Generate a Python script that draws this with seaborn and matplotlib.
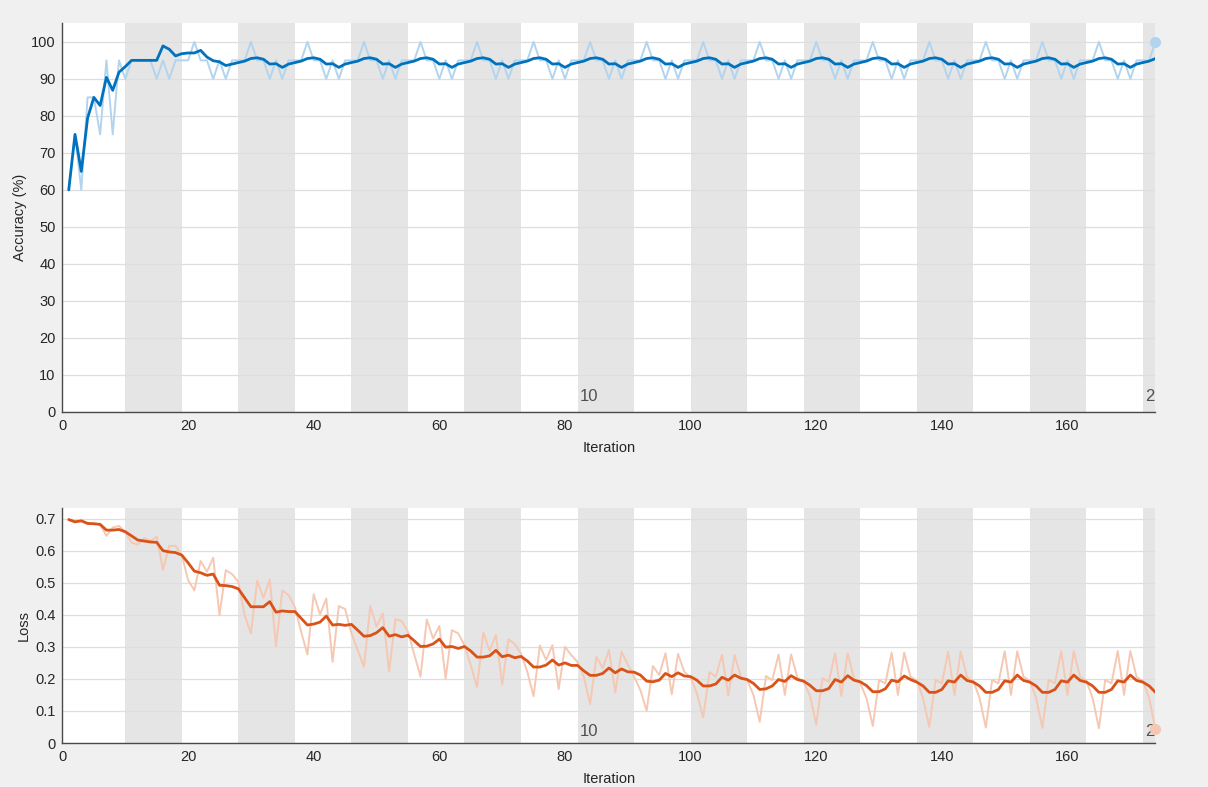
import numpy as np
import pandas as pd
import matplotlib
matplotlib.use("Agg")
import matplotlib.pyplot as plt
import seaborn as sns

# ---- training record: one row of 9 values per epoch (9 iterations / epoch) ----
acc_raw = [
    60, 75, 60, 85, 85, 75, 95, 75, 95,
    90, 95, 95, 95, 95, 90, 95, 90, 95,
    95, 95, 100, 95, 95, 90, 95, 90, 95,
    95, 95, 100, 95, 95, 90, 95, 90, 95,
    95, 95, 100, 95, 95, 90, 95, 90, 95,
    95, 95, 100, 95, 95, 90, 95, 90, 95,
    95, 95, 100, 95, 95, 90, 95, 90, 95,
    95, 95, 100, 95, 95, 90, 95, 90, 95,
    95, 95, 100, 95, 95, 90, 95, 90, 95,
    95, 95, 100, 95, 95, 90, 95, 90, 95,
    95, 95, 100, 95, 95, 90, 95, 90, 95,
    95, 95, 100, 95, 95, 90, 95, 90, 95,
    95, 95, 100, 95, 95, 90, 95, 90, 95,
    95, 95, 100, 95, 95, 90, 95, 90, 95,
    95, 95, 100, 95, 95, 90, 95, 90, 95,
    95, 95, 100, 95, 95, 90, 95, 90, 95,
    95, 95, 100, 95, 95, 90, 95, 90, 95,
    95, 95, 100, 95, 95, 90, 95, 90, 95,
    95, 95, 100, 95, 95, 90, 95, 90, 95,
    95, 95, 100,
]

acc_smooth = [
    60.0, 75.0, 65.0, 79.4, 85.0, 82.8, 90.4, 86.9, 91.8,
    93.3, 95.0, 95.0, 95.0, 95.0, 95.0, 98.9, 98.0, 96.2,
    96.8, 97.0, 97.0, 97.7, 95.9, 94.9, 94.6, 93.6, 94.0,
    94.4, 94.8, 95.5, 95.7, 95.3, 94.0, 94.1, 93.1, 94.0,
    94.4, 94.8, 95.5, 95.7, 95.3, 94.0, 94.1, 93.1, 94.0,
    94.4, 94.8, 95.5, 95.7, 95.3, 94.0, 94.1, 93.1, 94.0,
    94.4, 94.8, 95.5, 95.7, 95.3, 94.0, 94.1, 93.1, 94.0,
    94.4, 94.8, 95.5, 95.7, 95.3, 94.0, 94.1, 93.1, 94.0,
    94.4, 94.8, 95.5, 95.7, 95.3, 94.0, 94.1, 93.1, 94.0,
    94.4, 94.8, 95.5, 95.7, 95.3, 94.0, 94.1, 93.1, 94.0,
    94.4, 94.8, 95.5, 95.7, 95.3, 94.0, 94.1, 93.1, 94.0,
    94.4, 94.8, 95.5, 95.7, 95.3, 94.0, 94.1, 93.1, 94.0,
    94.4, 94.8, 95.5, 95.7, 95.3, 94.0, 94.1, 93.1, 94.0,
    94.4, 94.8, 95.5, 95.7, 95.3, 94.0, 94.1, 93.1, 94.0,
    94.4, 94.8, 95.5, 95.7, 95.3, 94.0, 94.1, 93.1, 94.0,
    94.4, 94.8, 95.5, 95.7, 95.3, 94.0, 94.1, 93.1, 94.0,
    94.4, 94.8, 95.5, 95.7, 95.3, 94.0, 94.1, 93.1, 94.0,
    94.4, 94.8, 95.5, 95.7, 95.3, 94.0, 94.1, 93.1, 94.0,
    94.4, 94.8, 95.5, 95.7, 95.3, 94.0, 94.1, 93.1, 94.0,
    94.4, 94.8, 95.5,
]

loss_raw = [
    0.697, 0.688, 0.694, 0.683, 0.683, 0.681, 0.646, 0.672, 0.677,
    0.659, 0.625, 0.619, 0.639, 0.630, 0.644, 0.540, 0.615, 0.615,
    0.586, 0.508, 0.476, 0.568, 0.534, 0.578, 0.399, 0.539, 0.527,
    0.503, 0.399, 0.342, 0.506, 0.453, 0.510, 0.302, 0.476, 0.461,
    0.424, 0.347, 0.276, 0.464, 0.401, 0.451, 0.253, 0.427, 0.418,
    0.342, 0.290, 0.238, 0.427, 0.363, 0.404, 0.224, 0.386, 0.381,
    0.347, 0.277, 0.207, 0.385, 0.326, 0.365, 0.201, 0.352, 0.342,
    0.305, 0.243, 0.175, 0.345, 0.288, 0.337, 0.183, 0.323, 0.309,
    0.279, 0.222, 0.146, 0.304, 0.259, 0.305, 0.168, 0.300, 0.274,
    0.253, 0.207, 0.121, 0.269, 0.233, 0.290, 0.158, 0.285, 0.245,
    0.207, 0.165, 0.101, 0.240, 0.212, 0.280, 0.152, 0.278, 0.222,
    0.205, 0.155, 0.080, 0.221, 0.207, 0.275, 0.148, 0.274, 0.207,
    0.196, 0.150, 0.066, 0.209, 0.196, 0.276, 0.150, 0.276, 0.204,
    0.191, 0.147, 0.058, 0.202, 0.191, 0.280, 0.147, 0.280, 0.202,
    0.186, 0.140, 0.053, 0.196, 0.186, 0.282, 0.150, 0.282, 0.207,
    0.195, 0.140, 0.050, 0.197, 0.186, 0.285, 0.150, 0.285, 0.206,
    0.194, 0.140, 0.048, 0.197, 0.186, 0.286, 0.150, 0.286, 0.206,
    0.194, 0.140, 0.047, 0.197, 0.186, 0.286, 0.150, 0.286, 0.206,
    0.194, 0.140, 0.046, 0.197, 0.186, 0.287, 0.150, 0.287, 0.206,
    0.193, 0.140, 0.044,
]

loss_smooth = [
    0.697, 0.690, 0.693, 0.685, 0.684, 0.682, 0.664, 0.664, 0.666,
    0.659, 0.646, 0.633, 0.630, 0.627, 0.626, 0.600, 0.596, 0.594,
    0.586, 0.562, 0.536, 0.531, 0.523, 0.527, 0.492, 0.491, 0.488,
    0.481, 0.453, 0.425, 0.425, 0.425, 0.441, 0.408, 0.412, 0.410,
    0.410, 0.389, 0.368, 0.371, 0.377, 0.396, 0.368, 0.370, 0.367,
    0.370, 0.352, 0.333, 0.335, 0.344, 0.360, 0.333, 0.338, 0.331,
    0.336, 0.319, 0.301, 0.302, 0.309, 0.324, 0.299, 0.301, 0.295,
    0.301, 0.287, 0.268, 0.268, 0.272, 0.289, 0.269, 0.274, 0.266,
    0.270, 0.256, 0.237, 0.237, 0.243, 0.259, 0.243, 0.250, 0.242,
    0.242, 0.225, 0.211, 0.211, 0.217, 0.234, 0.219, 0.231, 0.222,
    0.221, 0.212, 0.193, 0.191, 0.196, 0.217, 0.207, 0.219, 0.209,
    0.207, 0.196, 0.178, 0.178, 0.184, 0.205, 0.196, 0.212, 0.202,
    0.198, 0.186, 0.167, 0.169, 0.178, 0.198, 0.192, 0.210, 0.198,
    0.193, 0.180, 0.163, 0.163, 0.170, 0.198, 0.190, 0.210, 0.196,
    0.191, 0.179, 0.160, 0.160, 0.169, 0.196, 0.191, 0.209, 0.198,
    0.190, 0.178, 0.158, 0.158, 0.167, 0.194, 0.190, 0.212, 0.195,
    0.190, 0.178, 0.158, 0.158, 0.167, 0.194, 0.190, 0.212, 0.195,
    0.190, 0.178, 0.158, 0.158, 0.167, 0.194, 0.190, 0.212, 0.195,
    0.190, 0.178, 0.158, 0.158, 0.167, 0.194, 0.190, 0.212, 0.195,
    0.190, 0.178, 0.158,
]

iters_per_epoch = 9
n_epochs = 20
epoch_marks = [10, 20]
x_ticks = [0, 20, 40, 60, 80, 100, 120, 140, 160]
acc_ticks = [0, 10, 20, 30, 40, 50, 60, 70, 80, 90, 100]
loss_ticks = [0, 0.1, 0.2, 0.3, 0.4, 0.5, 0.6, 0.7]

iteration = np.arange(1, len(acc_raw) + 1)
df = pd.DataFrame({
    "Iteration": iteration,
    "acc_raw": acc_raw,
    "acc_smooth": acc_smooth,
    "loss_raw": loss_raw,
    "loss_smooth": loss_smooth,
})

# ---- styling ----
sns.set_theme(style="white")
plt.rcParams["font.family"] = ["Liberation Sans", "DejaVu Sans"]
plt.rcParams["axes.facecolor"] = "white"

FIG_BG = "#f0f0f0"
BAND = "#e5e5e5"
GRID = "#dedede"
TXT = "#262626"
BLUE = "#0072bd"
BLUE_LIGHT = "#b3d4ee"
ORANGE = "#d95319"
ORANGE_LIGHT = "#f5c8b3"

fig = plt.figure(figsize=(12.08, 7.87), dpi=100, facecolor=FIG_BG)
ax_acc = fig.add_axes([0.0517, 0.4765, 0.9048, 0.4943])
ax_loss = fig.add_axes([0.0517, 0.0559, 0.9048, 0.2986])

x_max = len(acc_raw)


def decorate(ax, ylim, yticks, ylabel, label_y):
    ax.set_xlim(0, x_max)
    ax.set_ylim(*ylim)
    # shaded bands for every second epoch
    for k in range(2, n_epochs + 1, 2):
        start = (k - 1) * iters_per_epoch + 1
        ax.axvspan(start, start + iters_per_epoch, color=BAND, lw=0, zorder=0)
    for k in epoch_marks:
        start = (k - 1) * iters_per_epoch + 1
        ax.text(start + 0.4, label_y, str(k), fontsize=12, color="#505050",
                ha="left", va="bottom", clip_on=True, zorder=1)
    ax.set_yticks(yticks)
    ax.set_yticklabels([f"{v:g}" for v in yticks])
    ax.set_xticks(x_ticks)
    for v in yticks:
        ax.axhline(v, color=GRID, lw=0.9, zorder=0.5)
    for side in ("top", "right"):
        ax.spines[side].set_visible(False)
    for side in ("left", "bottom"):
        ax.spines[side].set_color("#4a4a4a")
        ax.spines[side].set_linewidth(1.0)
    ax.tick_params(axis="both", direction="in", length=7, width=0.9,
                   colors="#4a4a4a", labelcolor=TXT, labelsize=10.5, pad=5)


decorate(ax_acc, (0, 105.1), acc_ticks, "Accuracy (%)", 2.2)
decorate(ax_loss, (0, 0.733), loss_ticks, "Loss", 0.014)

sns.lineplot(data=df, x="Iteration", y="acc_raw", ax=ax_acc, color=BLUE_LIGHT,
             lw=1.4, estimator=None, zorder=2)
sns.lineplot(data=df, x="Iteration", y="acc_smooth", ax=ax_acc, color=BLUE,
             lw=2.0, estimator=None, zorder=3)
sns.lineplot(data=df, x="Iteration", y="loss_raw", ax=ax_loss, color=ORANGE_LIGHT,
             lw=1.4, estimator=None, zorder=2)
sns.lineplot(data=df, x="Iteration", y="loss_smooth", ax=ax_loss, color=ORANGE,
             lw=2.0, estimator=None, zorder=3)

# final raw values marked at the end of each run
last = df.iloc[-1]
ax_acc.plot([last["Iteration"]], [last["acc_raw"]], "o", ms=7, color=BLUE_LIGHT,
            clip_on=False, zorder=4)
ax_loss.plot([last["Iteration"]], [last["loss_raw"]], "o", ms=7, color=ORANGE_LIGHT,
             clip_on=False, zorder=4)

for ax, lab in ((ax_acc, "Accuracy (%)"), (ax_loss, "Loss")):
    ax.set_xlabel("Iteration", fontsize=10.5, color=TXT, labelpad=6)
    ax.set_ylabel(lab, fontsize=10.5, color=TXT, labelpad=3)

fig.savefig("out.png", dpi=100, facecolor=FIG_BG)
